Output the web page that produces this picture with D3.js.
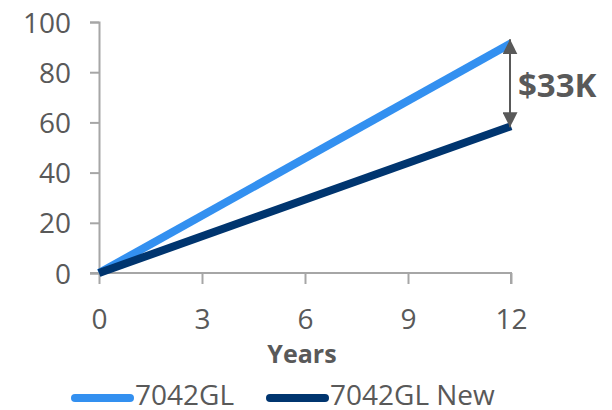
<!DOCTYPE html>
<html>
<head>
<meta charset="utf-8">
<script src="https://cdn.jsdelivr.net/npm/d3@7"></script>
<style>
  html, body { margin: 0; padding: 0; background: #fff; }
  svg { display: block; }
  svg text { font-family: "Open Sans", "Noto Sans", sans-serif; }
</style>
</head>
<body>
<svg id="chart" width="612" height="410"></svg>
<script>
// Cumulative cost (thousands of $) over ownership period
const years = [0, 12];
const seriesNames = ["7042GL", "7042GL New"];
const costOld = [0, 91.5];
const costNew = [0, 58.5];
const yTicks = [0, 20, 40, 60, 80, 100];
const xTicks = [0, 3, 6, 9, 12];
const gapLabel = "$33K";
const xTitle = "Years";

const colors = ["#3390f0", "#00356f"];
const axisColor = "#a6a6a6";
const textColor = "#595959";
const fontFamily = '"Open Sans", "Noto Sans", sans-serif';

const svg = d3.select("#chart");
const x = d3.scaleLinear().domain([0, 12]).range([99, 511]);
const y = d3.scaleLinear().domain([0, 100]).range([273, 22]);

// Y axis
const yAxis = svg.append("g").attr("transform", `translate(${x(0)},0)`)
  .attr("font-family", fontFamily)
  .call(d3.axisLeft(y).tickValues(yTicks).tickSize(9).tickPadding(19));
yAxis.attr("font-family", fontFamily).attr("font-size", 28);
yAxis.select(".domain").attr("stroke", axisColor).attr("stroke-width", 2);
yAxis.selectAll(".tick line").attr("stroke", axisColor).attr("stroke-width", 2);
yAxis.selectAll("text").attr("fill", textColor).attr("dy", "0.36em");

// X axis
const xAxis = svg.append("g").attr("transform", `translate(0,${y(0)})`)
  .call(d3.axisBottom(x).tickValues(xTicks).tickSize(11).tickPadding(25));
xAxis.attr("font-family", fontFamily).attr("font-size", 28);
xAxis.select(".domain").attr("stroke", axisColor).attr("stroke-width", 2)
  .attr("d", `M${x(0) - 9},0H${x(12)}V11`);
xAxis.selectAll(".tick line").attr("stroke", axisColor).attr("stroke-width", 2);
xAxis.selectAll("text").attr("fill", textColor).attr("dy", "0.72em");

svg.append("text")
  .attr("x", (x(0) + x(12)) / 2 - 3).attr("y", 363)
  .attr("text-anchor", "middle")
  .attr("fill", textColor)
  .style("font-size", "25px").style("font-weight", "bold")
  .text(xTitle);

// Series lines
const line = d3.line().x(d => x(d[0])).y(d => y(d[1]));
[costOld, costNew].forEach((vals, i) => {
  svg.append("path")
    .datum(years.map((yr, k) => [yr, vals[k]]))
    .attr("d", line)
    .attr("fill", "none")
    .attr("stroke", colors[i])
    .attr("stroke-width", 8);
});

// Gap arrow between the two series at year 12
const defs = svg.append("defs");
defs.append("marker")
  .attr("id", "arrowHead")
  .attr("viewBox", "0 0 10 10")
  .attr("refX", 10).attr("refY", 5)
  .attr("markerWidth", 15).attr("markerHeight", 15)
  .attr("markerUnits", "userSpaceOnUse")
  .attr("orient", "auto-start-reverse")
  .append("path").attr("d", "M0,0L10,5L0,10Z").attr("fill", textColor);

const ax = x(12) - 1;
svg.append("line")
  .attr("x1", ax).attr("x2", ax)
  .attr("y1", y(costOld[1]) - 4).attr("y2", y(costNew[1]) + 1)
  .attr("stroke", textColor).attr("stroke-width", 2)
  .attr("marker-start", "url(#arrowHead)")
  .attr("marker-end", "url(#arrowHead)");

svg.append("text")
  .attr("x", 518).attr("y", (y(costOld[1]) + y(costNew[1])) / 2)
  .attr("dy", "0.36em")
  .attr("fill", textColor)
  .style("font-size", "33px").style("font-weight", "bold")
  .text(gapLabel);

// Legend
const legendItems = [
  { name: seriesNames[0], color: colors[0], x0: 75, x1: 130, tx: 135 },
  { name: seriesNames[1], color: colors[1], x0: 270, x1: 325, tx: 330 }
];
const lg = svg.append("g");
legendItems.forEach(d => {
  lg.append("line")
    .attr("x1", d.x0).attr("x2", d.x1).attr("y1", 398).attr("y2", 398)
    .attr("stroke", d.color).attr("stroke-width", 8).attr("stroke-linecap", "round");
  lg.append("text")
    .attr("x", d.tx).attr("y", 405)
    .attr("fill", textColor).style("font-size", "28px")
    .text(d.name);
});
</script>
</body>
</html>
